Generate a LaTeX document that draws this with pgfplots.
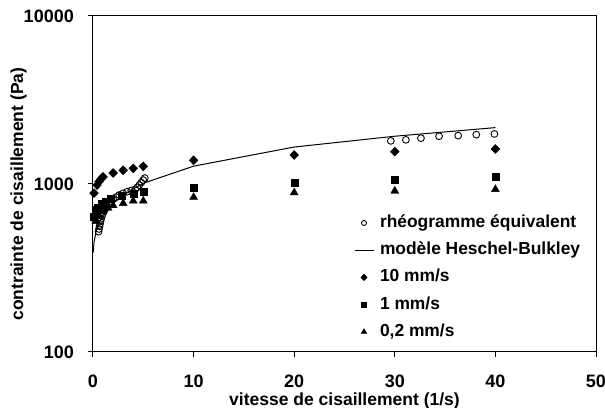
\documentclass[border=0pt]{standalone}
\usepackage{pgfplots}
\pgfplotsset{compat=1.18}
\usepackage{fontspec}
\setmainfont{Liberation Sans}
\pgfplotsset{
  legmark/.style={legend image code/.code={\draw[##1, mark size=#1, mark repeat=2, mark phase=2] plot coordinates {(0bp,0bp) (9.5bp,0bp) (19bp,0bp)};}},
  legline/.style={legend image code/.code={\draw[##1] (0bp,0bp) -- (19bp,0bp);}},
}
\begin{document}
\begin{tikzpicture}
\useasboundingbox (-93bp,-56bp) rectangle (512bp,352bp);
\begin{axis}[
  scale only axis, width=503bp, height=336bp,
  xmin=0, xmax=50, ymin=100, ymax=10000, ymode=log,
  xtick={0,10,20,30,40,50}, ytick={100,1000,10000}, yticklabels={100,1000,10000},
  yminorticks=false, xminorticks=false,
  tick align=outside, major tick length=5bp,
  xtick pos=left, ytick pos=left,
  axis line style={line width=1bp}, every tick/.style={line width=1bp, black},
  /pgf/number format/assume math mode=true,
  tick label style={font=\fontsize{18bp}{21bp}\selectfont\bfseries, inner sep=0pt},
  xticklabel style={anchor=center, yshift=-24.5bp},
  yticklabel style={anchor=east, xshift=-14bp},
  label style={font=\fontsize{17.5bp}{21bp}\selectfont\bfseries, inner sep=0pt},
  xlabel={vitesse de cisaillement (1/s)},
  xlabel style={at={(axis description cs:0.5,0)}, anchor=center, yshift=-48.5bp},
  ylabel={contrainte de cisaillement (Pa)},
  ylabel style={at={(axis description cs:-0.148,0.47)}, anchor=center},
  legend cell align=left,
  legend style={draw=none, fill=none, inner sep=0pt, outer sep=0pt,
    at={(axis description cs:0.5189,0.4077)}, anchor=north west,
    row sep=11.2bp,
    font=\fontsize{17.4bp}{20bp}\selectfont\bfseries,
    nodes={inner sep=0pt, text height=12.5bp, text depth=3.5bp},
    /tikz/every odd column/.append style={column sep=6bp}},
]
% rheogramme equivalent
\addplot[only marks, mark=o, mark size=3.4bp, line width=0.9bp, black, legmark=2.5bp]
coordinates {
(0.55,520)(0.6,540)(0.65,560)(0.7,580)(0.75,600)(0.8,620)(0.9,645)(1.0,670)
(1.1,690)(1.25,715)(1.4,740)(1.6,765)(1.8,790)(2.0,810)(2.3,835)(2.6,860)
(3.0,880)(3.4,900)(3.8,915)(4.2,930)(4.4,955)(4.6,985)(4.8,1020)(5.0,1055)(5.15,1085)
(29.6,1806)(31.1,1832)(32.6,1874)(34.4,1925)(36.3,1941)(38.1,1967)(39.9,1986)
};
\addlegendentry{rhéogramme équivalent}
% modele
\addplot[black, line width=1bp, mark=none, legline]
coordinates {
(0.02,390)(0.1,450)(0.3,520)(0.6,590)(1,650)(2,770)(3,860)(4,935)(5,1010)
(10,1277)(20,1660)(30,1925)(40,2166)
};
\addlegendentry{modèle Heschel-Bulkley}
% 10 mm/s
\addplot[only marks, mark=diamond*, mark size=4.5bp, mark options={xscale=1.3}, black, legmark=3.2bp]
coordinates {
(0.1,883)(0.4,986)(0.6,1033)(0.8,1072)(1,1102)(2,1163)(3,1207)(4,1240)(5,1274)
(10,1383)(20,1488)(30,1557)(40,1615)
};
\addlegendentry{10 mm/s}
% 1 mm/s
\addplot[only marks, mark=square*, mark size=3.5bp, black, legmark=2.5bp]
coordinates {
(0.05,638)(0.25,700)(0.5,726)(0.85,767)(1.3,790)(1.8,815)(2.9,851)(4,880)(5,896)
(10,951)(20,1018)(30,1067)(40,1105)
};
\addlegendentry{1 mm/s}
% 0,2 mm/s
\addplot[only marks, mark=triangle*, mark size=4.6bp, black, legmark=3.2bp]
coordinates {
(0.3,600)(0.6,650)(1,690)(1.5,720)(2,745)(3,767)(4,793)(5,793)
(10,834)(20,888)(30,909)(40,929)
};
\addlegendentry{0,2 mm/s}
\end{axis}
\end{tikzpicture}
\end{document}
